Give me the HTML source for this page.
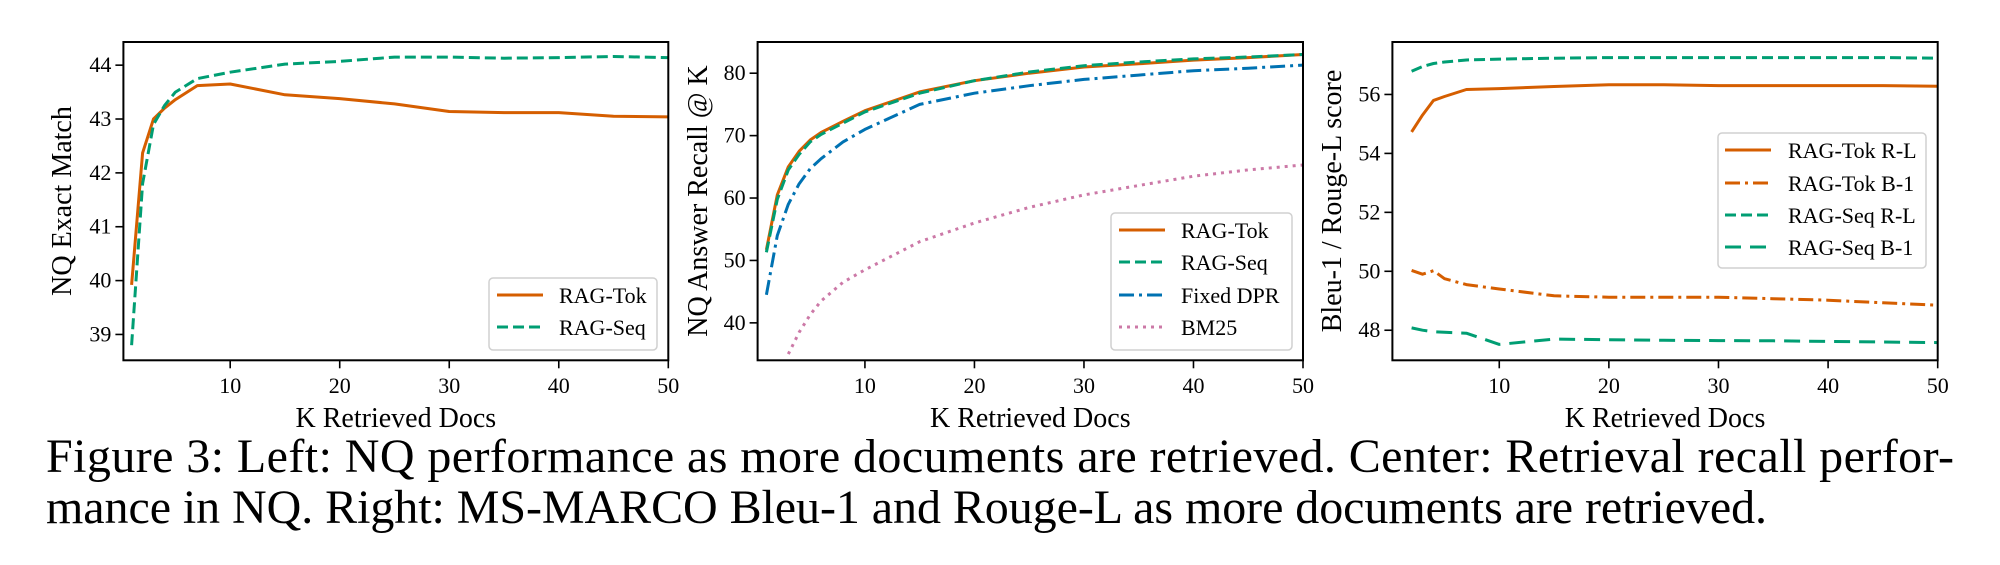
<!DOCTYPE html>
<html><head><meta charset="utf-8">
<style>
html,body{margin:0;padding:0;background:#fff;}
svg{display:block;font-family:"Liberation Serif",serif;}
</style></head>
<body>
<svg id="fig" width="2000" height="565" viewBox="0 0 2000 565" xmlns="http://www.w3.org/2000/svg">
<text x="46" y="472" font-size="48" textLength="1908" lengthAdjust="spacing">Figure 3: Left: NQ performance as more documents are retrieved. Center: Retrieval recall perfor-</text>
<text x="46" y="523" font-size="48" textLength="1721" lengthAdjust="spacing">mance in NQ. Right: MS-MARCO Bleu-1 and Rouge-L as more documents are retrieved.</text>
</svg>
<script>
// ---- Left chart data ----
const leftK = [1,2,3,4,5,7,10,15,20,25,30,35,40,45,50];
const leftTok = [39.92,42.37,43.0,43.2,43.36,43.62,43.65,43.45,43.38,43.28,43.14,43.12,43.12,43.05,43.04];
const leftSeqK = [1,2,3,4,5,7,10,15,20,25,30,35,40,45,50];
const leftSeq = [38.8,41.8,42.9,43.25,43.5,43.75,43.87,44.02,44.07,44.15,44.15,44.13,44.14,44.16,44.14];
const leftYTicks = [39,40,41,42,43,44];
// ---- Center chart data ----
const cenK = [1,2,3,4,5,6,8,10,15,20,25,30,35,40,45,50];
const cenTok = [51.7,60.5,65,67.5,69.3,70.5,72.3,74,77,78.8,80,81,81.5,82.1,82.5,83];
const cenSeq = [51.3,59.8,64.5,67,69,70.2,72,73.8,76.8,78.8,80.2,81.2,81.8,82.3,82.6,83];
const cenDpr = [44.5,54,59,62.3,64.7,66.3,69,71,75,76.8,78,79,79.7,80.4,80.8,81.3];
const bmK = [3,4,5,6,8,10,15,20,25,30,35,40,45,50];
const cenBm = [35,38.5,41.3,43.5,46.5,48.5,53,56,58.5,60.5,62,63.5,64.5,65.3];
const cenYTicks = [40,50,60,70,80];
// ---- Right chart data ----
const rK = [2,3,4,5,7,10,15,20,25,30,35,40,45,50];
const rTokRL = [54.73,55.3,55.8,55.93,56.17,56.2,56.27,56.33,56.33,56.3,56.3,56.3,56.3,56.28];
const rTokB1 = [50.03,49.9,50.02,49.75,49.55,49.4,49.17,49.12,49.12,49.12,49.07,49.02,48.93,48.85];
const rSeqRL = [56.79,56.95,57.05,57.1,57.17,57.2,57.23,57.25,57.25,57.25,57.25,57.25,57.25,57.23];
const rSeqB1 = [48.08,48.0,47.95,47.93,47.9,47.52,47.7,47.68,47.66,47.65,47.64,47.62,47.6,47.58];
const rYTicks = [48,50,52,54,56];
const xTicks = [10,20,30,40,50];

const NS="http://www.w3.org/2000/svg";
const svg=document.getElementById('fig');
function el(tag,attrs,parent){const e=document.createElementNS(NS,tag);for(const k in attrs)e.setAttribute(k,attrs[k]);(parent||svg).appendChild(e);return e;}

const OR="#d55e00",GR="#009e73",BL="#0072b2",PK="#cc79a7";
const DASH="11,5",DASHDOT="15,5,3,5",DOT="3,5",LDASH="16,9";

function chart(o){
  const g=el('g',{});
  
  
  const X=k=>o.x0+(k-o.xmin)/(50-o.xmin)*(o.x1-o.x0);
  const Y=v=>o.y1-(v-o.ymin)/(o.ymax-o.ymin)*(o.y1-o.y0);
  const cp=el('clipPath',{id:o.name+'-clip'},g);
  el('rect',{x:o.x0,y:o.y0,width:o.x1-o.x0,height:o.y1-o.y0},cp);
  o.series.forEach(s=>{
    const pts=s.k.map((k,i)=>X(k).toFixed(1)+','+Y(s.v[i]).toFixed(1)).join(' ');
    const p=el('polyline',{points:pts,fill:'none',stroke:s.c,'stroke-width':3,'stroke-linejoin':'round','clip-path':'url(#'+o.name+'-clip)'},g);
    if(s.d)p.setAttribute('stroke-dasharray',s.d);
    
    
  });
  const fr=el('rect',{x:o.x0,y:o.y0,width:o.x1-o.x0,height:o.y1-o.y0,fill:'none',stroke:'#000','stroke-width':2},g);
  
  
  xTicks.forEach(t=>{
    const x=X(t);
    el('line',{x1:x,x2:x,y1:o.y1,y2:o.y1+8,stroke:'#000','stroke-width':1.6},g);
    const tx=el('text',{x:x,y:393,'font-size':22,'text-anchor':'middle'},g);
    tx.textContent=t;
    
    
  });
  o.yt.forEach(t=>{
    const y=Y(t);
    el('line',{x1:o.x0-8,x2:o.x0,y1:y,y2:y,stroke:'#000','stroke-width':1.6},g);
    const tx=el('text',{x:o.x0-12,y:y+7,'font-size':22,'text-anchor':'end'},g);
    tx.textContent=t;
    
    
  });
  const xl=el('text',{x:(o.x0+o.x1)/2,y:427,'font-size':28,'text-anchor':'middle'},g);
  xl.textContent='K Retrieved Docs';
  
  
  const yl=el('text',{x:0,y:0,'font-size':28,'text-anchor':'middle',transform:'translate('+(o.ylx+10)+',201) rotate(-90)'},g);
  yl.textContent=o.ylabel;
  
  
  const L=o.leg;
  const lg=el('g',{},g);
  
  
  el('rect',{x:L.x0,y:L.y0,width:L.x1-L.x0,height:L.y1-L.y0,rx:4,fill:'#fff','fill-opacity':0.85,stroke:'#d0d0d0','stroke-width':1.5},lg);
  o.series.forEach((s,i)=>{
    const y=L.ys[i];
    const ln=el('line',{x1:L.lx0,x2:L.lx1,y1:y,y2:y,stroke:s.c,'stroke-width':3},lg);
    if(s.d)ln.setAttribute('stroke-dasharray',s.d);
    const t=el('text',{x:L.tx,y:y+8,'font-size':22},lg);
    t.textContent=s.label;
    
    
  });
}

chart({name:'left-chart',x0:123.4,x1:668.3,y0:42,y1:360.3,xmin:0.25,ymin:38.52,ymax:44.43,yt:leftYTicks,
  ylabel:'NQ Exact Match',ylx:61,
  series:[{id:'rag-tok',label:'RAG-Tok',k:leftK,v:leftTok,c:OR},
          {id:'rag-seq',label:'RAG-Seq',k:leftSeqK,v:leftSeq,c:GR,d:DASH}],
  leg:{x0:489,x1:657,y0:278,y1:350,ys:[295,327],lx0:497,lx1:543,tx:559}});

chart({name:'center-chart',x0:757.6,x1:1303,y0:42,y1:360.3,xmin:0.2,ymin:34.0,ymax:85.0,yt:cenYTicks,
  ylabel:'NQ Answer Recall @ K',ylx:697,
  series:[{id:'rag-tok',label:'RAG-Tok',k:cenK,v:cenTok,c:OR},
          {id:'rag-seq',label:'RAG-Seq',k:cenK,v:cenSeq,c:GR,d:DASH},
          {id:'fixed-dpr',label:'Fixed DPR',k:cenK,v:cenDpr,c:BL,d:DASHDOT},
          {id:'bm25',label:'BM25',k:bmK,v:cenBm,c:PK,d:DOT}],
  leg:{x0:1111,x1:1292,y0:213,y1:350,ys:[230,262,295,327],lx0:1119,lx1:1165,tx:1181}});

chart({name:'right-chart',x0:1392.4,x1:1937.7,y0:42,y1:360.3,xmin:0.25,ymin:46.98,ymax:57.78,yt:rYTicks,
  ylabel:'Bleu-1 / Rouge-L score',ylx:1331,
  series:[{id:'rag-tok-rl',label:'RAG-Tok R-L',k:rK,v:rTokRL,c:OR},
          {id:'rag-tok-b1',label:'RAG-Tok B-1',k:rK,v:rTokB1,c:OR,d:DASHDOT},
          {id:'rag-seq-rl',label:'RAG-Seq R-L',k:rK,v:rSeqRL,c:GR,d:DASH},
          {id:'rag-seq-b1',label:'RAG-Seq B-1',k:rK,v:rSeqB1,c:GR,d:LDASH}],
  leg:{x0:1718,x1:1926,y0:133,y1:268,ys:[150,183,215,247],lx0:1725,lx1:1771,tx:1788}});
</script>
</body></html>
